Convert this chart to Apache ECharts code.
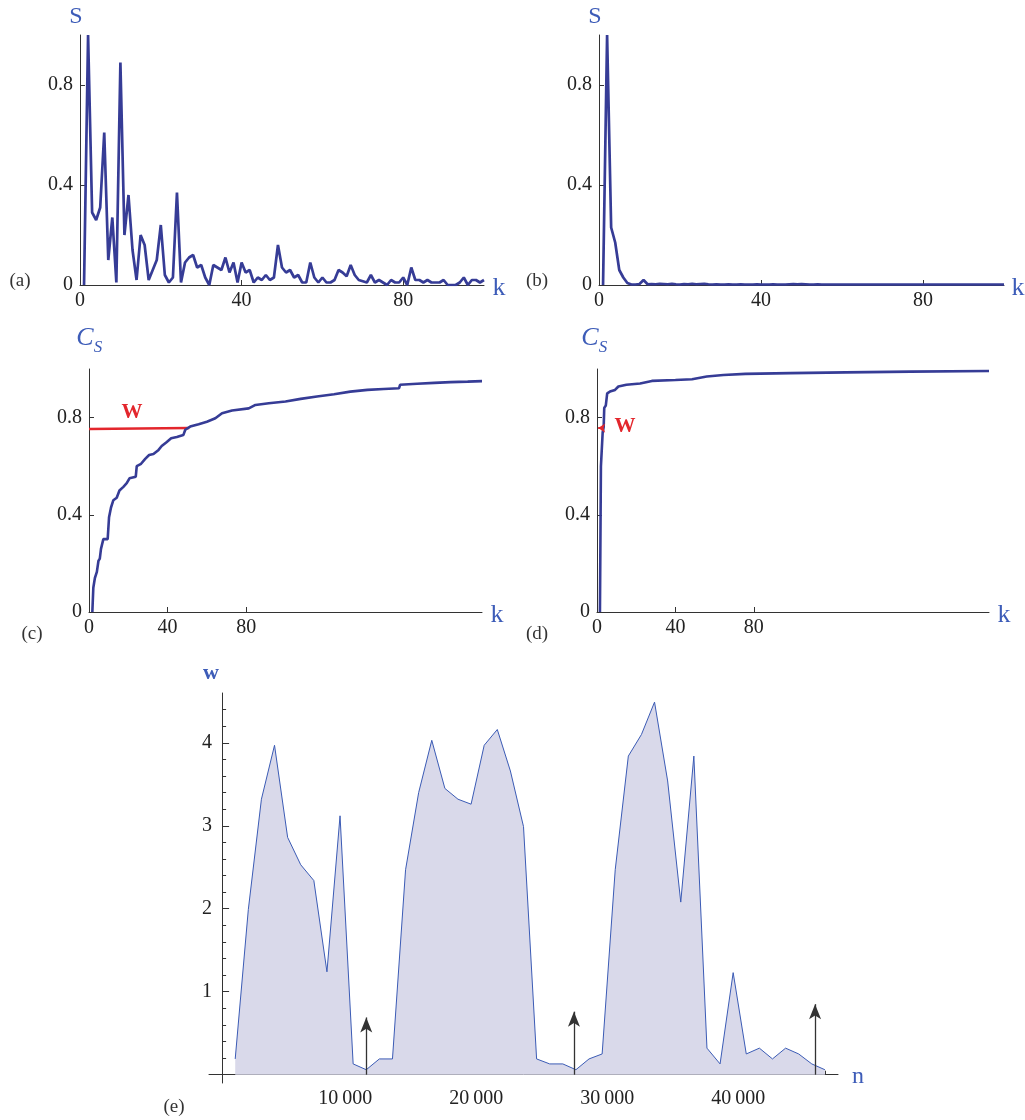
<!DOCTYPE html>
<html><head><meta charset="utf-8">
<script src="https://cdn.jsdelivr.net/npm/echarts@6/dist/echarts.min.js"></script>
<style>html,body{margin:0;padding:0;background:#fff}#c{width:1025px;height:1120px}</style>
</head><body><div id="c"></div>
<script>
// ---------- data ----------
const kTicksTop = [0, 40, 80];
const kTicksMid = [0, 40, 80];
const sTicks = [0, 0.4, 0.8];
// S(k), panel (a), k = 1..100
const sA = [0, 1.0, 0.29, 0.26, 0.31, 0.61, 0.10, 0.27, 0.01, 0.89,
  0.20, 0.36, 0.14, 0.02, 0.20, 0.16, 0.02, 0.06, 0.10, 0.24,
  0.04, 0.01, 0.03, 0.37, 0.01, 0.09, 0.11, 0.12, 0.07, 0.08,
  0.03, 0.00, 0.08, 0.07, 0.06, 0.11, 0.05, 0.09, 0.01, 0.09,
  0.05, 0.06, 0.01, 0.03, 0.02, 0.04, 0.02, 0.03, 0.16, 0.07,
  0.05, 0.06, 0.03, 0.04, 0.01, 0.01, 0.09, 0.03, 0.01, 0.03,
  0.01, 0.01, 0.02, 0.06, 0.05, 0.035, 0.08, 0.04, 0.02, 0.015,
  0.01, 0.04, 0.01, 0.02, 0.01, 0.00, 0.02, 0.01, 0.01, 0.03,
  0.00, 0.07, 0.02, 0.02, 0.01, 0.02, 0.01, 0.01, 0.01, 0.02,
  0.00, 0.00, 0.00, 0.01, 0.03, 0.00, 0.02, 0.02, 0.01, 0.02];
// S(k), panel (b), k = 1..100
const sB = [0, 1.0, 0.23, 0.17, 0.06, 0.03, 0.008, 0.002, 0.002, 0.004,
  0.02, 0.003, 0.004, 0.003, 0.005, 0.004, 0.003, 0.005, 0.003, 0.002,
  0.004, 0.003, 0.005, 0.003, 0.004, 0.005, 0.003, 0.002, 0.003, 0.002,
  0.002, 0.003, 0.002, 0.002, 0.003, 0.002, 0.002, 0.002, 0.003, 0.002,
  0.002, 0.002, 0.003, 0.002, 0.002, 0.002, 0.003, 0.004, 0.003, 0.004,
  0.003, 0.002, 0.002, 0.003, 0.002, 0.002, 0.002, 0.002, 0.002, 0.002,
  0.002, 0.002, 0.002, 0.002, 0.002, 0.002, 0.002, 0.002, 0.002, 0.002,
  0.002, 0.002, 0.002, 0.002, 0.002, 0.002, 0.002, 0.002, 0.002, 0.002,
  0.002, 0.002, 0.002, 0.002, 0.002, 0.002, 0.002, 0.002, 0.002, 0.002,
  0.002, 0.002, 0.002, 0.002, 0.002, 0.002, 0.002, 0.002, 0.002, 0.002];
// C_S(k), panel (c)
const csC = [[1.7,0],[2.2,0.10],[3,0.14],[4,0.165],[4.8,0.21],[5.5,0.22],[6.1,0.26],[7.3,0.30],[9.5,0.30],
  [10.2,0.39],[11.2,0.43],[12.4,0.46],[14.1,0.47],[15.5,0.50],[17.5,0.515],[19.2,0.53],[20.6,0.55],
  [23.8,0.557],[24.3,0.60],[26.5,0.61],[28.6,0.63],[30.6,0.646],[32.8,0.65],[35.4,0.667],[37,0.683],
  [39.6,0.70],[41.8,0.715],[44.7,0.72],[48,0.728],[49,0.75],[51.5,0.763],[55.8,0.773],[60,0.783],
  [64.3,0.797],[67.7,0.818],[72.8,0.829],[81.3,0.838],[84.7,0.852],[91.5,0.859],[100,0.866],
  [107.7,0.877],[116,0.887],[124.7,0.896],[133,0.907],[141.7,0.914],[150,0.918],[157.8,0.921],
  [158.3,0.935],[167,0.939],[175.7,0.943],[184,0.946],[192.7,0.948],[200,0.95]];
// C_S(k), panel (d)
const csD = [[1.5,0],[2.0,0.6],[2.6,0.6],[2.9,0.74],[3.4,0.76],[3.7,0.84],[4.5,0.85],[5.2,0.90],
  [6.6,0.907],[9.2,0.914],[10.9,0.928],[15,0.935],[22,0.94],[28,0.951],[40,0.955],[48.5,0.958],
  [56,0.969],[64.5,0.975],[75.7,0.98],[98.5,0.983],[127,0.986],[160,0.989],[200,0.992]];
const wLineC = [[0, 0.753], [51, 0.757]];
const wLineD = [[3.2, 0.757], [0.6, 0.757]];
// panel (e): w(n)
const nValues = [1000,2000,3000,4000,5000,6000,7000,8000,9000,10000,
  11000,12000,13000,14000,15000,16000,17000,18000,19000,20000,
  21000,22000,23000,24000,25000,26000,27000,28000,29000,30000,
  31000,32000,33000,34000,35000,36000,37000,38000,39000,40000,
  41000,42000,43000,44000,45000,46000];
const wValues = [0.19,1.99,3.32,3.97,2.86,2.53,2.34,1.24,3.12,0.13,
  0.06,0.19,0.19,2.47,3.40,4.03,3.45,3.32,3.26,3.97,
  4.16,3.66,2.99,0.19,0.13,0.13,0.06,0.19,0.25,2.47,
  3.84,4.10,4.49,3.54,2.08,3.84,0.32,0.13,1.23,0.25,
  0.32,0.19,0.32,0.25,0.13,0.06];
const arrowN = [11000, 26850, 45250];
const arrowTop = [0.71, 0.78, 0.87];
const nTicks = [10000, 20000, 30000, 40000];
const nMinorTicks = [2000,4000,6000,8000,12000,14000,16000,18000,22000,24000,26000,28000,32000,34000,36000,38000,42000,44000,46000];
const wTicks = [1, 2, 3, 4];
const wMinorTicks = [0.2,0.4,0.6,0.8,1.2,1.4,1.6,1.8,2.2,2.4,2.6,2.8,3.2,3.4,3.6,3.8,4.2,4.4];

// ---------- styles ----------
const SERIF = "'Liberation Serif', 'DejaVu Serif', serif";
const AXC = '#333';
const BLUE = '#3d5cb8';
const NAVY = '#363c96';
const RED = '#e3262c';
const tickLabel = {fontFamily: SERIF, fontSize: 20, color: '#222'};

function xAx(grid, min, max, ticks, extra) {
  return Object.assign({
    type: 'value', gridIndex: grid, min: min, max: max, position: 'bottom',
    axisLine: {show: true, onZero: false, lineStyle: {color: AXC, width: 1}},
    axisTick: {show: true, inside: true, length: 5, customValues: ticks, lineStyle: {color: AXC}},
    axisLabel: Object.assign({show: true, customValues: ticks, margin: 6,
      formatter: v => ticks.indexOf(v) >= 0 ? String(v) : ''}, tickLabel),
    splitLine: {show: false}
  }, extra || {});
}
function yAx(grid, min, max, ticks, extra) {
  return Object.assign({
    type: 'value', gridIndex: grid, min: min, max: max, position: 'left',
    axisLine: {show: true, onZero: false, lineStyle: {color: AXC, width: 1}},
    axisTick: {show: true, inside: true, length: 5, customValues: ticks, lineStyle: {color: AXC}},
    axisLabel: Object.assign({show: true, customValues: ticks, margin: 7,
      formatter: v => ticks.indexOf(v) >= 0 ? String(v) : ''}, tickLabel),
    splitLine: {show: false}
  }, extra || {});
}

const pairsA = sA.map((v, i) => [i + 1, v]);
const pairsB = sB.map((v, i) => [i + 1, v]);
const pairsE = nValues.map((n, i) => [n, wValues[i]]);

const lineBase = {type: 'line', showSymbol: false, silent: true, animation: false};

function txt(text, x, y, font, fill) {
  return {type: 'text', x: x, y: y, silent: true,
    style: {text: text, font: font, fill: fill, align: 'center', verticalAlign: 'middle',
      textAlign: 'center', textVerticalAlign: 'middle'}};
}

const option = {
  backgroundColor: '#fff',
  animation: false,
  grid: [
    {left: 80, top: 35, width: 404, height: 250},
    {left: 599, top: 35, width: 405, height: 250},
    {left: 89, top: 369, width: 393, height: 243},
    {left: 597, top: 369, width: 392, height: 243},
    {left: 209, top: 693, width: 629, height: 390}
  ],
  xAxis: [
    xAx(0, 0, 100, kTicksTop),
    xAx(1, 0, 100, kTicksTop),
    xAx(2, 0, 200, kTicksMid),
    xAx(3, 0, 200, kTicksMid),
    xAx(4, -1000, 47000, nTicks, {
      axisLine: {show: true, onZero: true, lineStyle: {color: AXC, width: 1}},
      axisTick: {show: true, inside: true, length: 7, customValues: nTicks, lineStyle: {color: AXC}},
      axisLabel: Object.assign({show: true, customValues: nTicks, margin: 6, padding: [0, 16, 0, 0],
        formatter: v => nTicks.indexOf(v) >= 0 ? String(v / 1000) + '\u2009000' : ''}, tickLabel)
    }),
    xAx(4, -1000, 47000, nMinorTicks, {
      axisLine: {show: false, onZero: true},
      axisTick: {show: true, inside: true, length: 4, customValues: nMinorTicks, lineStyle: {color: AXC}},
      axisLabel: {show: false}
    })
  ],
  yAxis: [
    yAx(0, 0, 1, sTicks),
    yAx(1, 0, 1, sTicks),
    yAx(2, 0, 1, sTicks),
    yAx(3, 0, 1, sTicks),
    yAx(4, -0.1, 4.6, wTicks, {
      axisLine: {show: true, onZero: true, lineStyle: {color: AXC, width: 1}},
      axisTick: {show: true, inside: true, length: 7, customValues: wTicks, lineStyle: {color: AXC}},
      axisLabel: Object.assign({show: true, customValues: wTicks, margin: -3,
        formatter: v => wTicks.indexOf(v) >= 0 ? String(v) : ''}, tickLabel)
    }),
    yAx(4, -0.1, 4.6, wMinorTicks, {
      axisLine: {show: false, onZero: true},
      axisTick: {show: true, inside: true, length: 4, customValues: wMinorTicks, lineStyle: {color: AXC}},
      axisLabel: {show: false}
    })
  ],
  series: [
    Object.assign({}, lineBase, {xAxisIndex: 0, yAxisIndex: 0, data: pairsA,
      lineStyle: {color: NAVY, width: 2.7}, itemStyle: {color: NAVY}}),
    Object.assign({}, lineBase, {xAxisIndex: 1, yAxisIndex: 1, data: pairsB,
      lineStyle: {color: NAVY, width: 2.7}, itemStyle: {color: NAVY}}),
    Object.assign({}, lineBase, {xAxisIndex: 2, yAxisIndex: 2, data: wLineC,
      lineStyle: {color: RED, width: 2.6}, itemStyle: {color: RED}}),
    Object.assign({}, lineBase, {xAxisIndex: 2, yAxisIndex: 2, data: csC,
      lineStyle: {color: NAVY, width: 2.6}, itemStyle: {color: NAVY}}),
    Object.assign({}, lineBase, {xAxisIndex: 3, yAxisIndex: 3, data: csD,
      lineStyle: {color: NAVY, width: 2.6}, itemStyle: {color: NAVY}}),
    Object.assign({}, lineBase, {xAxisIndex: 3, yAxisIndex: 3, data: [],
      markLine: {silent: true, animation: false, symbol: ['none', 'arrow'], symbolSize: [7, 7],
        label: {show: false}, lineStyle: {color: RED, width: 2, type: 'solid'},
        data: [[{coord: wLineD[0]}, {coord: wLineD[1]}]]}}),
    Object.assign({}, lineBase, {xAxisIndex: 4, yAxisIndex: 4, data: pairsE,
      lineStyle: {color: '#3b5bb5', width: 1}, itemStyle: {color: '#3b5bb5'},
      areaStyle: {color: '#d9d9ea', opacity: 1, origin: 0},
      markLine: {silent: true, animation: false, symbol: ['none', 'arrow'], symbolSize: [9, 15],
        label: {show: false}, lineStyle: {color: '#333', width: 1.3, type: 'solid'},
        data: arrowN.map((n, i) => [{coord: [n, 0]}, {coord: [n, arrowTop[i] - 0.02]}])}})
  ],
  graphic: {elements: [
    txt('S', 76, 17, "24px " + SERIF, BLUE),
    txt('k', 499, 288, "26px " + SERIF, BLUE),
    txt('S', 595, 17, "24px " + SERIF, BLUE),
    txt('k', 1018, 288, "26px " + SERIF, BLUE),
    txt('C', 85, 338, "italic 26px " + SERIF, BLUE),
    txt('S', 98, 348, "italic 17px " + SERIF, BLUE),
    txt('k', 497, 615, "26px " + SERIF, BLUE),
    txt('C', 590, 338, "italic 26px " + SERIF, BLUE),
    txt('S', 603, 348, "italic 17px " + SERIF, BLUE),
    txt('k', 1004, 615, "26px " + SERIF, BLUE),
    txt('W', 132, 413, "bold 21px " + SERIF, RED),
    txt('W', 625, 427, "bold 21px " + SERIF, RED),
    txt('w', 211, 673, "bold 22px " + SERIF, BLUE),
    txt('n', 858, 1077, "24px " + SERIF, BLUE),
    txt('(a)', 20, 281, "19px " + SERIF, '#333'),
    txt('(b)', 537, 281, "19px " + SERIF, '#333'),
    txt('(c)', 32, 634, "19px " + SERIF, '#333'),
    txt('(d)', 537, 634, "19px " + SERIF, '#333'),
    txt('(e)', 174, 1107, "19px " + SERIF, '#333')
  ]}
};

const chart = echarts.init(document.getElementById('c'), null, {renderer: 'canvas', width: 1025, height: 1120});
chart.setOption(option);
</script>
</body></html>
